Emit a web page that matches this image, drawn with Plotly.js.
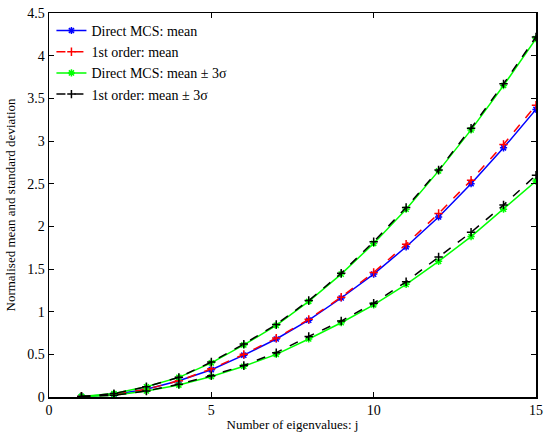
<!DOCTYPE html>
<html>
<head>
<meta charset="utf-8">
<script src="https://cdn.plot.ly/plotly-3.0.1.min.js"></script>
<style>html,body{margin:0;padding:0;background:#fff;}#chart{width:545px;height:432px;}</style>
</head>
<body>
<div id="chart"></div>
<script>
const j = [1,2,3,4,5,6,7,8,9,10,11,12,13,14,15];
const mcsMean  = [0.005,0.03,0.09,0.19,0.32,0.49,0.68,0.90,1.16,1.44,1.76,2.11,2.50,2.92,3.37];
const foMean   = [0.005,0.03,0.09,0.19,0.33,0.50,0.69,0.91,1.17,1.46,1.79,2.15,2.54,2.96,3.42];
const mcsUpper = [0.005,0.04,0.12,0.23,0.40,0.61,0.84,1.12,1.44,1.80,2.20,2.65,3.13,3.65,4.20];
const foUpper  = [0.005,0.04,0.12,0.23,0.41,0.62,0.85,1.13,1.45,1.82,2.22,2.66,3.15,3.67,4.22];
const mcsLower = [0.005,0.02,0.07,0.14,0.24,0.36,0.50,0.68,0.87,1.08,1.32,1.59,1.88,2.20,2.53];
const foLower  = [0.005,0.02,0.07,0.15,0.25,0.37,0.52,0.71,0.89,1.10,1.35,1.64,1.93,2.25,2.60];

const names = ['Direct MCS: mean','1st order: mean','Direct MCS: mean \u00b1 3\u03c3','1st order: mean \u00b1 3\u03c3'];

function tr(y, name, color, dash, symbol, show, group){
  return {x:j, y:y, type:'scatter', mode:'lines+markers', name:name, legendgroup:group, showlegend:show,
    line:{color:color, width:1.5, dash:dash},
    marker:{symbol:symbol, size:6, color:color, line:{color:color, width:1.5}}};
}
const traces = [
  tr(mcsMean, names[0], '#0000ff', 'solid', 'asterisk-open', true, 'a'),
  tr(foMean, names[1], '#ff0000', 'dash', 'cross-thin-open', true, 'b'),
  tr(mcsUpper, names[2], '#00ff00', 'solid', 'asterisk-open', true, 'c'),
  tr(mcsLower, names[2], '#00ff00', 'solid', 'asterisk-open', false, 'c'),
  tr(foUpper, names[3], '#000000', 'dash', 'cross-thin-open', true, 'd'),
  tr(foLower, names[3], '#000000', 'dash', 'cross-thin-open', false, 'd')
];

const fam = 'Liberation Serif';
const tickFont = {family:fam, size:14, color:'#000'};
function axis(extra){
  return Object.assign({showgrid:false, zeroline:false, showline:true, linecolor:'#000', linewidth:1.5,
    mirror:'ticks', ticks:'inside', ticklen:5, tickwidth:1, tickcolor:'#000',
    tickfont:{family:fam, size:14, color:'#000'}}, extra);
}
const layout = {
  width:545, height:432,
  margin:{l:49, r:9, t:13, b:35},
  paper_bgcolor:'#fff', plot_bgcolor:'#fff',
  font:{family:fam, size:14, color:'#000'},
  showlegend:true,
  legend:{x:0.005, y:0.995, xanchor:'left', yanchor:'top', bgcolor:'rgba(255,255,255,0)', borderwidth:0,
    font:{family:fam, size:14, color:'#000'}, tracegroupgap:0, itemwidth:30},
  xaxis:axis({range:[0,15], tickvals:[0,5,10,15], ticktext:['0','5','10','15'],
    title:{text:'Number of eigenvalues: j', font:{family:fam, size:13, color:'#000'}, standoff:2}}),
  yaxis:axis({range:[0,4.5], tickvals:[0,0.5,1,1.5,2,2.5,3,3.5,4,4.5],
    ticktext:['0','0.5','1','1.5','2','2.5','3','3.5','4','4.5'],
    title:{text:'Normalised mean and standard deviation', font:{family:fam, size:13, color:'#000'}, standoff:8}})
};
Plotly.newPlot('chart', traces, layout, {displayModeBar:false, staticPlot:true});
</script>
</body>
</html>
